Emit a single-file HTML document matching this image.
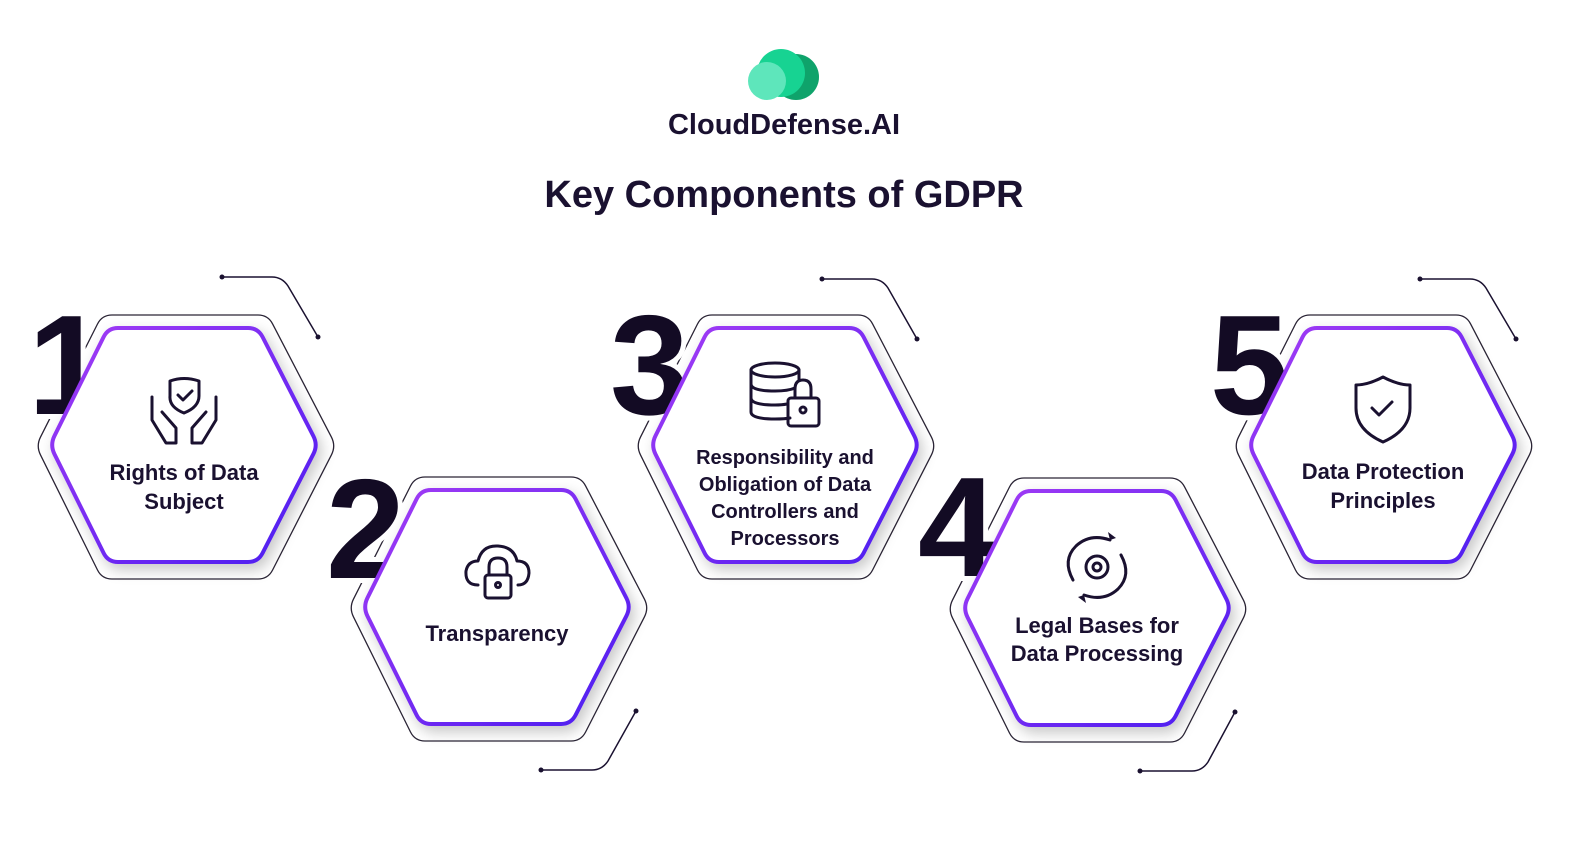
<!DOCTYPE html>
<html><head><meta charset="utf-8"><style>
html,body{margin:0;padding:0;background:#fff;}
svg{display:block}
text{font-family:"Liberation Sans",sans-serif;fill:#1a1130}
</style></head><body>
<svg width="1578" height="847" viewBox="0 0 1578 847" xmlns="http://www.w3.org/2000/svg">
<defs>
<linearGradient id="g" x1="0" y1="0" x2="1" y2="1">
<stop offset="0" stop-color="#a43cf5"/><stop offset="1" stop-color="#4a1cf0"/>
</linearGradient>
<filter id="sh" x="-20%" y="-20%" width="140%" height="140%">
<feDropShadow dx="4" dy="6" stdDeviation="7" flood-color="#000" flood-opacity="0.22"/>
</filter>
<g id="outer"><path d="M -145.5,-8.9 L -88.5,-122 Q -84,-131 -74,-131 L 72,-131 Q 82,-131 86.6,-122.1 L 145.4,-8.9 Q 150,0 145.4,8.9 L 86.6,124 Q 82,133 72,133 L -74,133 Q -84,133 -88.5,124 L -145.5,8.9 Q -150,0 -145.5,-8.9 Z" fill="#fff" stroke="#2a2435" stroke-width="1.3"/></g>
<g id="inner"><path d="M -129.6,-8.96 L -80.4,-108 Q -76,-117 -66,-117 L 64,-117 Q 74,-117 78.6,-108 L 129.4,-8.9 Q 134,0 129.4,8.9 L 78.6,108 Q 74,117 64,117 L -66,117 Q -76,117 -80.4,108 L -129.6,8.96 Q -134,0 -129.6,-8.96 Z" fill="#fff" stroke="url(#g)" stroke-width="4" filter="url(#sh)"/></g>
</defs>

<!-- logo -->
<circle cx="796" cy="77" r="23" fill="#0fa36b"/>
<circle cx="781" cy="73" r="24" fill="#17d392"/>
<circle cx="767" cy="81" r="19" fill="#5ee6bb"/>
<text x="784" y="134" text-anchor="middle" font-size="29" font-weight="bold">CloudDefense.AI</text>
<text x="784" y="207" text-anchor="middle" font-size="38" font-weight="bold">Key Components of GDPR</text>

<!-- connectors -->
<g fill="none" stroke="#1a1130" stroke-width="1.5">
<path d="M222,277 H272 Q282,277 288,286 L318,337"/>
<path d="M822,279 H872 Q882,279 888,288 L917,339"/>
<path d="M1420,279 H1470 Q1480,279 1486,288 L1516,339"/>
<path d="M541,770 H592 Q602,770 608,761 L636,711"/>
<path d="M1140,771 H1192 Q1202,771 1208,762 L1235,712"/>
</g>
<g fill="#1a1130">
<circle cx="222" cy="277" r="2.5"/><circle cx="318" cy="337" r="2.5"/>
<circle cx="822" cy="279" r="2.5"/><circle cx="917" cy="339" r="2.5"/>
<circle cx="1420" cy="279" r="2.5"/><circle cx="1516" cy="339" r="2.5"/>
<circle cx="541" cy="770" r="2.5"/><circle cx="636" cy="711" r="2.5"/>
<circle cx="1140" cy="771" r="2.5"/><circle cx="1235" cy="712" r="2.5"/>
</g>

<!-- hex outers -->
<use href="#outer" transform="translate(186,446)"/>
<use href="#outer" transform="translate(499,608)"/>
<use href="#outer" transform="translate(786,446)"/>
<use href="#outer" transform="translate(1098,609)"/>
<use href="#outer" transform="translate(1384,446)"/>

<!-- numbers -->
<g font-size="142" font-weight="bold" style="paint-order:stroke" stroke="#fff" stroke-width="10">
<text x="28" y="414" style="fill:#130b24">1</text>
<text x="326" y="578" style="fill:#130b24">2</text>
<text x="610" y="414" style="fill:#130b24">3</text>
<text x="918" y="576" style="fill:#130b24">4</text>
<text x="1210" y="414" style="fill:#130b24">5</text>
</g>

<!-- hex inners -->
<use href="#inner" transform="translate(184,445)"/>
<use href="#inner" transform="translate(497,607)"/>
<use href="#inner" transform="translate(785,445)"/>
<use href="#inner" transform="translate(1097,608)"/>
<use href="#inner" transform="translate(1383,445)"/>

<!-- icons -->
<g fill="none" stroke="#1a1130" stroke-width="3" stroke-linejoin="round" stroke-linecap="round">
<path d="M170,381 Q184,376 199,381 V396 Q199,407 184,413 Q169,407 170,396 Z"/>
<path d="M178,395 l5,5 l9,-9"/>
<path d="M152,397 V420 L166,443 H176 V428 L162,412"/>
<path d="M216,397 V420 L202,443 H192 V428 L206,412"/>
<path d="M478,585 Q465,585 466,571 Q468,561 478,561 Q482,545 498,546 Q514,547 517,561 Q529,561 529,573 Q528,585 518,585"/>
<rect x="485" y="575" width="26" height="23" rx="3"/>
<path d="M489,575 V567 Q489,558 498,558 Q507,558 507,567 V575"/>
<circle cx="498" cy="585" r="2.5"/>
<ellipse cx="775" cy="370" rx="24" ry="7"/>
<path d="M751,370 V412 Q751,419 775,419 Q785,419 790,418"/>
<path d="M751,384 Q751,391 775,391 Q788,391 795,388"/>
<path d="M751,398 Q751,405 775,405 Q782,405 787,404"/>
<path d="M799,370 V380"/>
<rect x="788" y="398" width="31" height="28" rx="3"/>
<path d="M795,398 V389 Q795,380 803,380 Q811,380 811,389 V398"/>
<circle cx="803" cy="410" r="3"/>
<path d="M1073,580 Q1062,560 1076,546 Q1090,533 1110,540"/>
<path d="M1121,555 Q1132,575 1118,589 Q1104,602 1084,595"/>
<circle cx="1097" cy="567" r="11"/>
<circle cx="1097" cy="567" r="4"/>
<path d="M1383,377 Q1398,385 1410,385 V408 Q1410,430 1383,442 Q1356,430 1356,408 V385 Q1368,385 1383,377 Z"/>
<path d="M1372,408 l7,7 l13,-13"/>
</g>
<path d="M1110,540 l-2,-8 l8,6 z M1084,595 l2,8 l-8,-6 z" fill="#1a1130"/>

<!-- labels -->
<g font-size="22" font-weight="bold" text-anchor="middle">
<text x="184" y="480">Rights of Data</text>
<text x="184" y="509">Subject</text>
<text x="497" y="641">Transparency</text>
<text x="1097" y="633">Legal Bases for</text>
<text x="1097" y="661">Data Processing</text>
<text x="1383" y="479">Data Protection</text>
<text x="1383" y="508">Principles</text>
</g>
<g font-size="20" font-weight="bold" text-anchor="middle">
<text x="785" y="464">Responsibility and</text>
<text x="785" y="491">Obligation of Data</text>
<text x="785" y="518">Controllers and</text>
<text x="785" y="545">Processors</text>
</g>
</svg>
</body></html>
